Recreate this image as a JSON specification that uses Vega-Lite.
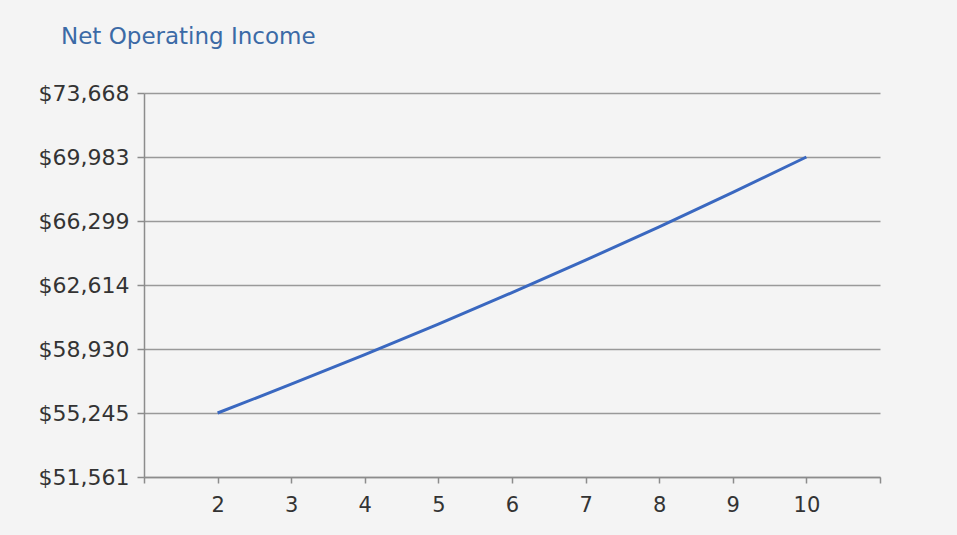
{
  "$schema": "https://vega.github.io/schema/vega-lite/v6.json",
  "width": 736,
  "height": 384,
  "autosize": {"type": "none"},
  "padding": {"left": 144, "top": 93, "right": 77, "bottom": 58},
  "background": "#f4f4f4",
  "title": {
    "text": "Net Operating Income",
    "anchor": "start",
    "frame": "group",
    "dx": -83,
    "offset": 33,
    "font": "DejaVu Sans",
    "fontSize": 23,
    "fontWeight": "normal",
    "color": "#3b6aa6"
  },
  "data": {
    "values": [
      {"year": 2, "noi": 55245},
      {"year": 3, "noi": 56902},
      {"year": 4, "noi": 58609},
      {"year": 5, "noi": 60368},
      {"year": 6, "noi": 62179},
      {"year": 7, "noi": 64044},
      {"year": 8, "noi": 65966},
      {"year": 9, "noi": 67945},
      {"year": 10, "noi": 69983}
    ]
  },
  "mark": {"type": "line", "color": "#3a68c0", "strokeWidth": 3},
  "encoding": {
    "x": {
      "field": "year",
      "type": "quantitative",
      "scale": {"domain": [1, 11], "nice": false, "zero": false},
      "axis": {
        "title": null,
        "values": [1, 2, 3, 4, 5, 6, 7, 8, 9, 10, 11],
        "labelExpr": "datum.value == 1 || datum.value == 11 ? '' : datum.label",
        "grid": false,
        "domainColor": "#8c8c8c",
        "domainWidth": 1.5,
        "tickColor": "#8c8c8c",
        "tickWidth": 1.5,
        "tickSize": 6,
        "labelPadding": 11,
        "labelFont": "DejaVu Sans",
        "labelFontSize": 21,
        "labelColor": "#333333",
        "labelFlush": false
      }
    },
    "y": {
      "field": "noi",
      "type": "quantitative",
      "scale": {"domain": [51561, 73668], "nice": false, "zero": false},
      "axis": {
        "title": null,
        "values": [51561, 55245, 58930, 62614, 66299, 69983, 73668],
        "format": "$,.0f",
        "grid": true,
        "gridColor": "#999999",
        "gridWidth": 1.5,
        "domainColor": "#8c8c8c",
        "domainWidth": 1.5,
        "tickColor": "#8c8c8c",
        "tickWidth": 1.5,
        "tickSize": 7,
        "labelPadding": 8,
        "labelFont": "DejaVu Sans",
        "labelFontSize": 22,
        "labelColor": "#333333",
        "labelFlush": false
      }
    }
  },
  "config": {"view": {"stroke": null}}
}
